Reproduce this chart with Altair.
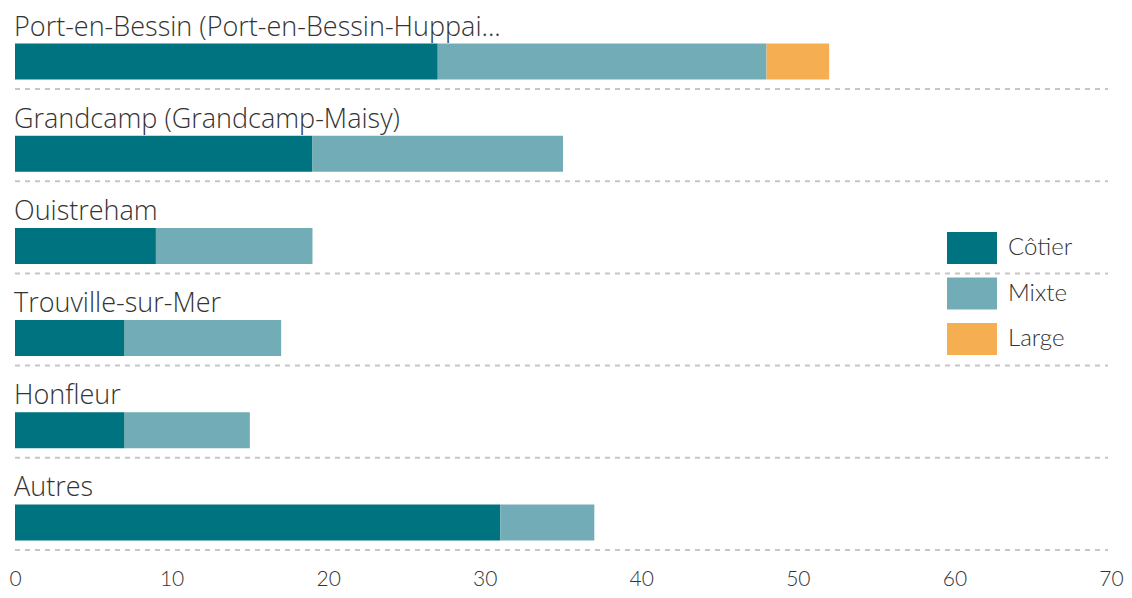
import altair as alt
import pandas as pd

ports = [
    "Port-en-Bessin (Port-en-Bessin-Huppai...",
    "Grandcamp (Grandcamp-Maisy)",
    "Ouistreham",
    "Trouville-sur-Mer",
    "Honfleur",
    "Autres",
]
types = ["Côtier", "Mixte", "Large"]
cotier = [27, 19, 9, 7, 7, 31]
mixte = [21, 16, 10, 10, 8, 6]
large = [4, 0, 0, 0, 0, 0]
colors = ["#007380", "#72adb7", "#f6ae53"]
x_ticks = [0, 10, 20, 30, 40, 50, 60, 70]

rows = []
for i, p in enumerate(ports):
    for j, (t, vals) in enumerate(zip(types, [cotier, mixte, large])):
        rows.append({"port": p, "type": t, "value": vals[i], "ord": j})
df = pd.DataFrame(rows)
labels = pd.DataFrame({"port": ports})

W, H = 1096, 553

yenc = alt.Y("port:N", sort=ports, axis=None,
             scale=alt.Scale(paddingInner=0, paddingOuter=0))

bars = alt.Chart(df).mark_bar(size=36, yOffset=7.5).encode(
    x=alt.X("value:Q", stack="zero",
            scale=alt.Scale(domain=[0, 70], nice=False),
            axis=alt.Axis(values=x_ticks, ticks=False, domain=False, grid=False,
                          title=None, labelFont="Lato", labelFontWeight=300,
                          labelFontSize=21, labelColor="#333", labelPadding=7,
                          labelFlush=False)),
    y=yenc,
    color=alt.Color("type:N", sort=types,
                    scale=alt.Scale(domain=types, range=colors),
                    legend=alt.Legend(
                        title=None, orient="none", legendX=932, legendY=215,
                        symbolType="M-1,-0.64L1,-0.64L1,0.64L-1,0.64Z",
                        symbolSize=2500, symbolStrokeWidth=0, symbolOpacity=1,
                        labelFont="Lato", labelFontWeight=300, labelFontSize=24,
                        labelColor="#333", labelOffset=11, rowPadding=4.5)),
    order=alt.Order("ord:Q"),
)

text = alt.Chart(labels).mark_text(
    align="left", baseline="middle", yOffset=-26.5, dx=-1,
    font="Open Sans", fontSize=27, fontWeight=300, color="#333",
).encode(x=alt.value(0), y=yenc, text="port:N")

seps = alt.Chart(labels).mark_rule(
    yOffset=35, strokeDash=[5, 5], strokeWidth=2, color="#c6c6c6",
).encode(x=alt.value(0), x2=alt.value(W - 3), y=yenc)

chart = alt.layer(seps, bars, text).properties(
    width=W, height=H,
    padding={"left": 7, "top": 0, "right": 13, "bottom": 29},
    autosize=alt.AutoSizeParams(type="none"),
).configure_view(stroke=None)

chart.save("out.html", embed_options={"renderer": "svg", "actions": False})
